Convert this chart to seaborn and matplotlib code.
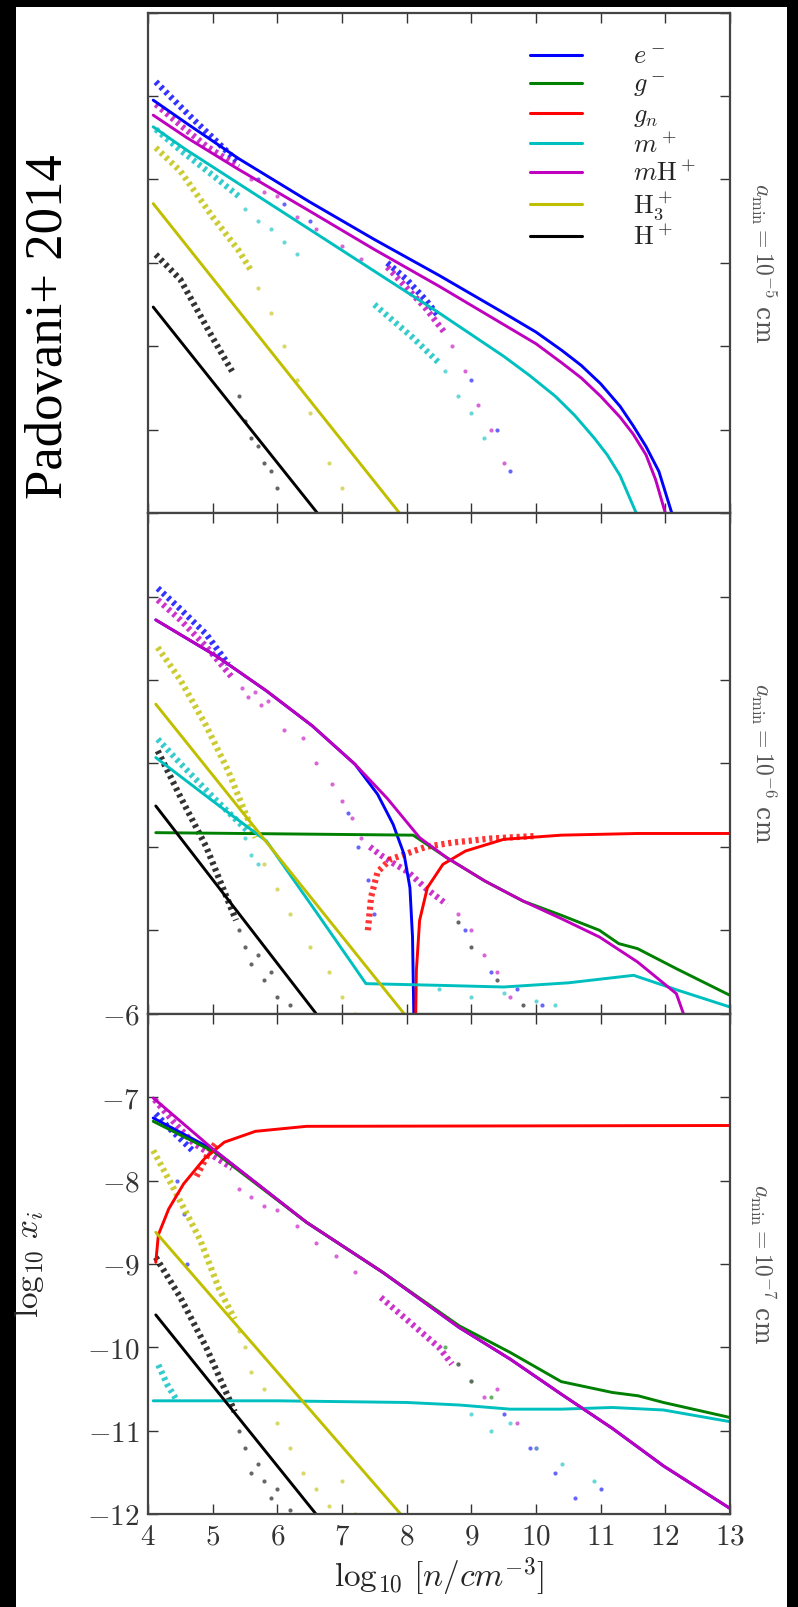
import numpy as np
import matplotlib
matplotlib.use('Agg')
import matplotlib.pyplot as plt
import seaborn as sns
from matplotlib.patches import Rectangle
from matplotlib.lines import Line2D
from matplotlib.ticker import FuncFormatter, FixedLocator

# ---------------- data ----------------
SPECIES = ['e', 'g', 'gn', 'm', 'mH', 'H3', 'H']
LABELS = [r'$e^-$', r'$g^-$', r'$g_n$', r'$m^+$', r'$m\mathrm{H}^+$', r'$\mathrm{H}_3^+$', r'$\mathrm{H}^+$']
COLORS = ['#0000ff', '#008000', '#ff0000', '#00bfbf', '#bf00bf', '#bfbf00', '#000000']
PANEL_LABELS = [r'$a_{\rm min}=10^{-5}$ cm', r'$a_{\rm min}=10^{-6}$ cm', r'$a_{\rm min}=10^{-7}$ cm']
XTICKS = [4, 5, 6, 7, 8, 9, 10, 11, 12, 13]
YTICKS = [-6, -7, -8, -9, -10, -11, -12]

# ---- panel 1 (a_min = 1e-5 cm): model lines ----
P1_E_X = [4.08, 4.6, 5.4, 6.5, 7.5, 8.5, 9.5, 10.0, 10.4, 10.7, 11.0, 11.3, 11.5, 11.7, 11.9, 12.1]
P1_E_Y = [-7.05, -7.33, -7.75, -8.27, -8.72, -9.15, -9.6, -9.83, -10.05, -10.23, -10.45, -10.72, -10.95, -11.2, -11.5, -12.0]
P1_M_X = [4.08, 4.6, 5.4, 6.5, 7.5, 8.5, 9.5, 10.0, 10.4, 10.7, 11.0, 11.3, 11.5, 11.7, 11.85, 12.0]
P1_M_Y = [-7.23, -7.5, -7.88, -8.38, -8.84, -9.28, -9.74, -9.97, -10.2, -10.38, -10.6, -10.85, -11.05, -11.3, -11.6, -12.0]
P1_C_X = [4.08, 4.6, 5.4, 6.5, 7.5, 8.5, 9.5, 9.9, 10.3, 10.6, 10.9, 11.1, 11.3, 11.55]
P1_C_Y = [-7.37, -7.65, -8.05, -8.6, -9.1, -9.6, -10.12, -10.35, -10.6, -10.83, -11.1, -11.3, -11.55, -12.0]
P1_H3_X = [4.08, 7.89]
P1_H3_Y = [-8.29, -12.0]
P1_H_X = [4.08, 6.62]
P1_H_Y = [-9.53, -12.0]
# panel 1: simulation points, dense bands
P1_E_DX = [4.12, 4.4, 4.7, 5.0, 5.4]
P1_E_DY = [-6.83, -7.05, -7.28, -7.5, -7.8]
P1_E2_DX = [7.7, 8.0, 8.3, 8.5]
P1_E2_DY = [-9.0, -9.2, -9.45, -9.65]
P1_M_DX = [4.12, 4.5, 4.9, 5.4]
P1_M_DY = [-7.1, -7.35, -7.6, -7.85]
P1_M2_DX = [7.7, 8.0, 8.3, 8.6]
P1_M2_DY = [-9.05, -9.3, -9.55, -9.85]
P1_C_DX = [4.12, 4.5, 5.0, 5.4]
P1_C_DY = [-7.4, -7.65, -7.95, -8.2]
P1_C2_DX = [7.5, 7.8, 8.1, 8.5]
P1_C2_DY = [-9.5, -9.7, -9.9, -10.2]
P1_H3_DX = [4.12, 4.5, 5.0, 5.4, 5.6]
P1_H3_DY = [-7.62, -7.9, -8.45, -8.85, -9.1]
P1_H_DX = [4.12, 4.5, 5.0, 5.3]
P1_H_DY = [-8.9, -9.2, -9.9, -10.3]
# panel 1: sparse points
P1_M_SX = [5.6, 5.8, 6.0, 6.3, 6.6, 7.0, 7.3, 8.7, 8.9, 9.1, 9.3, 9.5]
P1_M_SY = [-8.0, -8.15, -8.2, -8.45, -8.6, -8.8, -8.95, -10.0, -10.3, -10.7, -11.0, -11.4]
P1_E_SX = [5.7, 6.1, 6.5, 9.0, 9.4, 9.6]
P1_E_SY = [-8.0, -8.3, -8.5, -10.4, -11.0, -11.5]
P1_C_SX = [5.5, 5.7, 5.9, 6.1, 6.3, 8.6, 8.8, 9.0, 9.2]
P1_C_SY = [-8.35, -8.5, -8.6, -8.75, -8.9, -10.3, -10.6, -10.8, -11.1]
P1_H3_SX = [5.7, 5.9, 6.1, 6.3, 6.5, 6.8, 7.0, 7.1]
P1_H3_SY = [-9.3, -9.6, -10.0, -10.4, -10.8, -11.4, -11.7, -12.0]
P1_H_SX = [5.4, 5.5, 5.6, 5.7, 5.8, 5.9, 6.0]
P1_H_SY = [-10.6, -10.9, -11.1, -11.2, -11.4, -11.5, -11.7]

# ---- panel 2 (a_min = 1e-6 cm): model lines ----
P2_E_X = [4.12, 5.07, 5.83, 6.54, 7.2, 7.55, 7.79, 7.96, 8.05, 8.09, 8.11]
P2_E_Y = [-7.28, -7.72, -8.13, -8.55, -9.01, -9.37, -9.73, -10.09, -10.49, -11.08, -12.0]
P2_G_X = [4.12, 8.1, 8.62, 9.21, 9.8, 10.39, 10.98, 11.28, 11.57, 12.17, 13.0]
P2_G_Y = [-9.83, -9.86, -10.13, -10.41, -10.65, -10.82, -11.0, -11.16, -11.22, -11.46, -11.78]
P2_GN_X = [8.14, 8.15, 8.20, 8.32, 8.56, 8.91, 9.5, 10.39, 11.57, 13.0]
P2_GN_Y = [-12.0, -11.48, -10.88, -10.49, -10.21, -10.05, -9.91, -9.86, -9.84, -9.84]
P2_C_X = [4.12, 5.0, 5.83, 6.6, 7.37, 8.5, 9.5, 10.5, 11.51, 12.2, 13.0]
P2_C_Y = [-8.93, -9.45, -9.93, -10.78, -11.64, -11.66, -11.68, -11.63, -11.54, -11.72, -11.92]
P2_M_X = [4.12, 5.07, 5.83, 6.54, 7.2, 7.7, 8.2, 8.62, 9.21, 9.8, 10.39, 10.98, 11.57, 12.17, 12.28]
P2_M_Y = [-7.28, -7.72, -8.13, -8.55, -9.01, -9.42, -9.89, -10.13, -10.41, -10.65, -10.86, -11.08, -11.38, -11.76, -12.0]
P2_H3_X = [4.12, 7.96]
P2_H3_Y = [-8.29, -12.0]
P2_H_X = [4.12, 6.60]
P2_H_Y = [-9.51, -12.0]
# panel 2: dense bands
P2_E_DX = [4.15, 4.5, 4.9, 5.24]
P2_E_DY = [-6.9, -7.15, -7.45, -7.81]
P2_M_DX = [4.15, 4.5, 4.9, 5.3]
P2_M_DY = [-7.04, -7.28, -7.6, -7.97]
P2_M2_DX = [7.43, 7.6, 7.8, 8.02, 8.3, 8.62]
P2_M2_DY = [-10.0, -10.1, -10.2, -10.3, -10.5, -10.69]
P2_C_DX = [4.15, 4.5, 5.0, 5.54]
P2_C_DY = [-8.71, -9.0, -9.4, -9.81]
P2_H3_DX = [4.15, 4.5, 4.9, 5.24, 5.66]
P2_H3_DY = [-7.61, -8.0, -8.55, -9.09, -9.89]
P2_H_DX = [4.15, 4.5, 4.9, 5.36]
P2_H_DY = [-8.85, -9.4, -10.0, -10.88]
P2_GN_DX = [7.4, 7.45, 7.55, 7.75, 8.0, 8.3, 8.7, 9.3, 10.0]
P2_GN_DY = [-11.0, -10.6, -10.3, -10.15, -10.08, -10.0, -9.95, -9.9, -9.87]
# panel 2: sparse points
P2_M_SX = [5.45, 5.55, 5.65, 5.75, 5.85, 6.1, 6.4, 6.6, 6.85, 7.0, 7.15, 7.3, 8.8, 9.0, 9.2, 9.4, 9.6]
P2_M_SY = [-8.1, -8.2, -8.15, -8.3, -8.25, -8.6, -8.7, -9.0, -9.25, -9.45, -9.65, -9.9, -10.8, -11.0, -11.3, -11.5, -11.8]
P2_E_SX = [7.1, 7.25, 7.4, 7.5, 8.9, 9.3, 9.7, 10.1]
P2_E_SY = [-9.6, -10.0, -10.4, -10.8, -11.0, -11.5, -11.7, -11.9]
P2_C_SX = [5.5, 5.6, 5.7, 8.5, 9.0, 9.5, 10.0, 10.3]
P2_C_SY = [-9.9, -10.1, -10.2, -11.7, -11.8, -11.75, -11.85, -11.9]
P2_H3_SX = [5.8, 6.0, 6.2, 6.5, 6.8, 7.0, 7.2]
P2_H3_SY = [-10.2, -10.5, -10.8, -11.2, -11.5, -11.8, -12.0]
P2_H_SX = [5.4, 5.5, 5.6, 5.7, 5.8, 5.9, 6.0, 6.2, 8.8, 9.0, 9.4, 9.8]
P2_H_SY = [-11.0, -11.2, -11.4, -11.3, -11.6, -11.5, -11.8, -11.9, -10.9, -11.2, -11.6, -11.9]

# ---- panel 3 (a_min = 1e-7 cm): model lines ----
P3_E_X = [4.08, 5.03, 6.45, 7.63, 8.81, 9.6, 10.39, 11.18, 11.97, 13.0]
P3_E_Y = [-7.25, -7.64, -8.50, -9.10, -9.76, -10.14, -10.56, -10.97, -11.42, -11.93]
P3_G_X = [4.08, 5.03, 6.45, 7.63, 8.81, 9.6, 10.39, 11.18, 11.58, 11.97, 13.0]
P3_G_Y = [-7.29, -7.66, -8.50, -9.10, -9.74, -10.06, -10.41, -10.54, -10.58, -10.66, -10.84]
P3_GN_X = [4.12, 4.16, 4.32, 4.55, 4.87, 5.18, 5.66, 6.45, 13.0]
P3_GN_Y = [-8.98, -8.65, -8.34, -8.04, -7.74, -7.54, -7.41, -7.35, -7.34]
P3_C_X = [4.08, 6.0, 8.0, 8.81, 9.6, 10.39, 11.18, 11.97, 13.0]
P3_C_Y = [-10.64, -10.64, -10.66, -10.69, -10.74, -10.74, -10.72, -10.75, -10.89]
P3_M_X = [4.08, 5.03, 6.45, 7.63, 8.81, 9.6, 10.39, 11.18, 11.97, 13.0]
P3_M_Y = [-7.01, -7.64, -8.50, -9.10, -9.76, -10.14, -10.56, -10.97, -11.42, -11.93]
P3_H3_X = [4.12, 7.91]
P3_H3_Y = [-8.62, -12.0]
P3_H_X = [4.12, 6.6]
P3_H_Y = [-9.61, -12.0]
# panel 3: dense bands
P3_E_DX = [4.12, 4.3, 4.5, 4.7]
P3_E_DY = [-7.2, -7.35, -7.5, -7.65]
P3_M_DX = [4.1, 4.4, 4.7, 5.0, 5.3]
P3_M_DY = [-7.03, -7.3, -7.55, -7.7, -7.85]
P3_M2_DX = [7.6, 7.9, 8.2, 8.5, 8.7]
P3_M2_DY = [-9.4, -9.6, -9.8, -10.0, -10.2]
P3_GN_DX = [4.75, 4.85, 4.95, 5.05]
P3_GN_DY = [-7.95, -7.8, -7.65, -7.55]
P3_H3_DX = [4.08, 4.4, 4.8, 5.1, 5.34]
P3_H3_DY = [-7.64, -8.1, -8.7, -9.3, -9.66]
P3_H_DX = [4.12, 4.5, 4.9, 5.34]
P3_H_DY = [-8.92, -9.4, -10.0, -10.77]
P3_C_DX = [4.16, 4.3, 4.45]
P3_C_DY = [-10.21, -10.45, -10.64]
# panel 3: sparse points
P3_M_SX = [5.4, 5.6, 5.8, 6.0, 6.3, 6.6, 6.9, 7.2, 8.8, 9.0, 9.2, 9.4, 9.7, 10.0]
P3_M_SY = [-8.1, -8.2, -8.3, -8.35, -8.55, -8.75, -8.9, -9.1, -10.2, -10.4, -10.6, -10.5, -10.9, -11.2]
P3_E_SX = [4.45, 4.55, 4.6, 9.5, 9.9, 10.3, 10.6, 11.0]
P3_E_SY = [-8.0, -8.4, -9.0, -10.8, -11.2, -11.5, -11.8, -11.7]
P3_C_SX = [9.0, 9.3, 9.6, 10.0, 10.4, 10.9]
P3_C_SY = [-10.8, -11.0, -10.9, -11.2, -11.4, -11.6]
P3_G_SX = [8.6, 8.8, 9.0, 9.3]
P3_G_SY = [-10.0, -10.2, -10.4, -10.6]
P3_H3_SX = [5.4, 5.5, 5.6, 5.8, 6.0, 6.2, 6.4, 6.6, 6.8, 7.0, 7.2]
P3_H3_SY = [-9.8, -10.0, -10.3, -10.5, -10.9, -11.2, -11.5, -11.7, -11.9, -11.6, -12.0]
P3_H_SX = [5.4, 5.5, 5.6, 5.7, 5.8, 5.9, 6.0, 6.2]
P3_H_SY = [-11.0, -11.2, -11.5, -11.4, -11.6, -11.8, -11.7, -11.95]

CI = dict(zip(SPECIES, COLORS))

PANELS = [
    dict(lines=[('e', P1_E_X, P1_E_Y), ('m', P1_C_X, P1_C_Y), ('mH', P1_M_X, P1_M_Y),
                ('H3', P1_H3_X, P1_H3_Y), ('H', P1_H_X, P1_H_Y)],
         dense=[('e', P1_E_DX, P1_E_DY), ('e', P1_E2_DX, P1_E2_DY), ('mH', P1_M_DX, P1_M_DY),
                ('mH', P1_M2_DX, P1_M2_DY), ('m', P1_C_DX, P1_C_DY), ('m', P1_C2_DX, P1_C2_DY),
                ('H3', P1_H3_DX, P1_H3_DY), ('H', P1_H_DX, P1_H_DY)],
         sparse=[('mH', P1_M_SX, P1_M_SY), ('e', P1_E_SX, P1_E_SY), ('m', P1_C_SX, P1_C_SY),
                 ('H3', P1_H3_SX, P1_H3_SY), ('H', P1_H_SX, P1_H_SY)]),
    dict(lines=[('e', P2_E_X, P2_E_Y), ('g', P2_G_X, P2_G_Y), ('gn', P2_GN_X, P2_GN_Y),
                ('m', P2_C_X, P2_C_Y), ('mH', P2_M_X, P2_M_Y), ('H3', P2_H3_X, P2_H3_Y),
                ('H', P2_H_X, P2_H_Y)],
         dense=[('e', P2_E_DX, P2_E_DY), ('mH', P2_M_DX, P2_M_DY), ('mH', P2_M2_DX, P2_M2_DY),
                ('m', P2_C_DX, P2_C_DY), ('H3', P2_H3_DX, P2_H3_DY), ('H', P2_H_DX, P2_H_DY),
                ('gn', P2_GN_DX, P2_GN_DY)],
         sparse=[('mH', P2_M_SX, P2_M_SY), ('e', P2_E_SX, P2_E_SY), ('m', P2_C_SX, P2_C_SY),
                 ('H3', P2_H3_SX, P2_H3_SY), ('H', P2_H_SX, P2_H_SY)]),
    dict(lines=[('e', P3_E_X, P3_E_Y), ('g', P3_G_X, P3_G_Y), ('gn', P3_GN_X, P3_GN_Y),
                ('m', P3_C_X, P3_C_Y), ('mH', P3_M_X, P3_M_Y), ('H3', P3_H3_X, P3_H3_Y),
                ('H', P3_H_X, P3_H_Y)],
         dense=[('e', P3_E_DX, P3_E_DY), ('mH', P3_M_DX, P3_M_DY), ('mH', P3_M2_DX, P3_M2_DY),
                ('gn', P3_GN_DX, P3_GN_DY), ('H3', P3_H3_DX, P3_H3_DY), ('H', P3_H_DX, P3_H_DY),
                ('m', P3_C_DX, P3_C_DY)],
         sparse=[('mH', P3_M_SX, P3_M_SY), ('e', P3_E_SX, P3_E_SY), ('m', P3_C_SX, P3_C_SY),
                 ('g', P3_G_SX, P3_G_SY), ('H3', P3_H3_SX, P3_H3_SY), ('H', P3_H_SX, P3_H_SY)]),
]

# ---------------- style ----------------
sns.set_style('ticks')
plt.rcParams['mathtext.fontset'] = 'cm'
plt.rcParams['font.family'] = ['DejaVu Serif']
plt.rcParams['axes.unicode_minus'] = True

fig, axes = plt.subplots(3, 1, figsize=(7.98, 16.07), dpi=100, sharex=True, sharey=True)
fig.subplots_adjust(left=0.1855, right=0.9148, top=0.9922, bottom=0.0577, hspace=0)
fig.patch.set_facecolor('black')
fig.patches.append(Rectangle((16 / 798, 0), (787 - 16) / 798, 1 - 7 / 1607,
                             transform=fig.transFigure, facecolor='white',
                             edgecolor='none', zorder=-10))

fmt = FuncFormatter(lambda v, p: r'$%d$' % int(round(v)))

for i, (ax, pdata) in enumerate(zip(axes, PANELS)):
    ax.set_facecolor('white')
    for sp, xs, ys in pdata['dense']:
        sns.lineplot(x=np.array(xs), y=np.array(ys), ax=ax, color=CI[sp], sort=False,
                     estimator=None, lw=4.5, linestyle=(0, (0.5, 0.6)), alpha=0.8, legend=False)
    for sp, xs, ys in pdata['sparse']:
        sns.scatterplot(x=np.array(xs), y=np.array(ys), ax=ax, color=CI[sp], s=9,
                        marker='o', linewidth=0, alpha=0.6, legend=False)
    for sp, xs, ys in pdata['lines']:
        sns.lineplot(x=np.array(xs), y=np.array(ys), ax=ax, color=CI[sp], sort=False,
                     estimator=None, lw=2.1, legend=False)
    ax.set_xlim(4, 13)
    ax.set_ylim(-12, -6)
    ax.xaxis.set_major_locator(FixedLocator(XTICKS))
    ax.yaxis.set_major_locator(FixedLocator(YTICKS))
    ax.xaxis.set_major_formatter(fmt)
    ax.yaxis.set_major_formatter(fmt)
    ax.tick_params(direction='in', top=True, right=True, length=7, width=1,
                   labelsize=21, colors='#333333', pad=6)
    for s in ax.spines.values():
        s.set_color('#444444')
        s.set_linewidth(1.6)
    ax.set_xlabel('')
    ax.set_ylabel('')
    if i < 2:
        ax.tick_params(labelleft=False, labelbottom=False)
    ax.text(1.057, 0.5, PANEL_LABELS[i], transform=ax.transAxes, rotation=-90,
            va='center', ha='center', fontsize=17, color='#555555')

# legend
handles = [Line2D([0], [0], color=c, lw=2.2) for c in COLORS]
axes[0].legend(handles, LABELS, loc='upper left', bbox_to_anchor=(0.615, 0.985), frameon=False,
               fontsize=19, handlelength=2.0, handletextpad=1.9, labelspacing=0.12)

axes[2].set_ylabel(r'$\log_{10}\,x_i$', fontsize=24)
axes[2].yaxis.set_label_coords(-0.175, 0.50)
axes[2].set_xlabel(r'$\log_{10}\,[n/cm^{-3}]$', fontsize=24)
axes[2].xaxis.set_label_coords(0.5, -0.082)

fig.text(0.0614, 0.797, 'Padovani+ 2014', rotation=90, fontsize=38,
         family=['Liberation Serif', 'DejaVu Serif'], ha='center', va='center', color='black')

fig.savefig('out.png', dpi=100, facecolor=fig.get_facecolor())
